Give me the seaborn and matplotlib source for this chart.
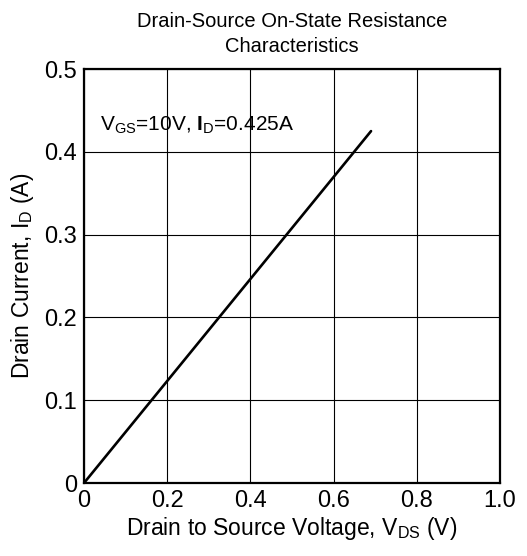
import matplotlib
matplotlib.use("Agg")
import matplotlib.pyplot as plt
import seaborn as sns
import pandas as pd

voltage = [0.0, 0.69]
current = [0.0, 0.425]
x_ticks = [0, 0.2, 0.4, 0.6, 0.8, 1.0]
x_tick_labels = ["0", "0.2", "0.4", "0.6", "0.8", "1.0"]
y_ticks = [0, 0.1, 0.2, 0.3, 0.4, 0.5]
y_tick_labels = ["0", "0.1", "0.2", "0.3", "0.4", "0.5"]

sns.set_theme(style="white")
plt.rcParams['font.family'] = ['Liberation Sans', 'DejaVu Sans']
plt.rcParams['mathtext.fontset'] = 'custom'
plt.rcParams['mathtext.rm'] = 'Liberation Sans'
plt.rcParams['mathtext.bf'] = 'Liberation Sans:bold'
plt.rcParams['mathtext.it'] = 'Liberation Sans:italic'

fig = plt.figure(figsize=(5.27, 5.56), dpi=100)
ax = fig.add_axes([84/527, 1-483/556, 416/527, 414/556])

df = pd.DataFrame({"v": voltage, "i": current})
sns.lineplot(data=df, x="v", y="i", ax=ax, color="black", linewidth=1.9)

ax.set_xlim(0, 1.0)
ax.set_ylim(0, 0.5)
ax.set_xticks(x_ticks)
ax.set_xticklabels(x_tick_labels)
ax.set_yticks(y_ticks)
ax.set_yticklabels(y_tick_labels)
ax.tick_params(axis='both', length=0, labelsize=17, colors='black', pad=5)
ax.grid(True, color='black', linewidth=0.8)
for s in ax.spines.values():
    s.set_color('black')
    s.set_linewidth(1.6)

ax.set_xlabel(r"Drain to Source Voltage, V$_{\mathrm{DS}}$ (V)", fontsize=16.5, color='black', labelpad=2)
ax.set_ylabel(r"Drain Current, I$_{\mathrm{D}}$ (A)", fontsize=16.5, color='black', labelpad=6)
ax.set_title("Drain-Source On-State Resistance\nCharacteristics", fontsize=14.5, color='black', pad=12, linespacing=1.45)

ax.text(0.038, 0.432, r"V$_{\mathrm{GS}}$=10V, $\mathbf{I}$$_{\mathrm{D}}$=0.425A",
        fontsize=15, color='black', va='center', ha='left')

fig.savefig("out.png", dpi=100)
